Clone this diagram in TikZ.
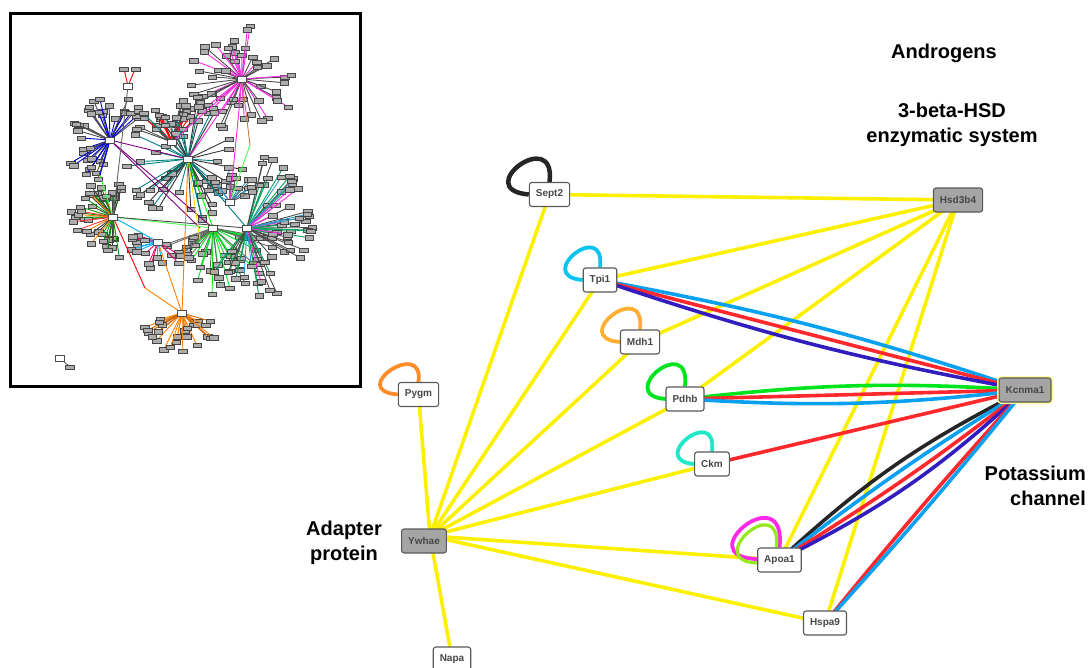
\documentclass[tikz,border=0pt]{standalone}
\usepackage{fontspec}
\setmainfont{Liberation Sans}
\usetikzlibrary{backgrounds}
\definecolor{yel}{RGB}{250,240,0}
\definecolor{lblue}{RGB}{10,160,240}
\definecolor{dblue}{RGB}{50,30,190}
\definecolor{ered}{RGB}{255,40,45}
\definecolor{egreen}{RGB}{0,228,30}
\definecolor{tcyan}{RGB}{10,195,240}
\definecolor{morange}{RGB}{255,175,50}
\definecolor{porange}{RGB}{255,140,40}
\definecolor{turq}{RGB}{30,232,200}
\definecolor{mag}{RGB}{255,40,230}
\definecolor{lgreen}{RGB}{150,232,30}
\definecolor{hubgray}{RGB}{165,165,165}
\newcommand\spokes[9]{%
  \foreach \k in {1,...,#3}{%
    \pgfmathsetmacro\ang{#4+rnd*(#5-#4)}%
    \pgfmathsetmacro\rad{#6+rnd*(#7-#6)}%
    \ifodd\k\relax\def\spc{#8}\else\def\spc{#9}\fi
    \path (#1,#2) ++(\ang:\rad) coordinate (sp);
    \draw[\spc, line width=0.9pt] (#1,#2) -- (sp);
    \filldraw[minibox] ([shift={(-4.2,-2.2)}]sp) rectangle ([shift={(4.2,2.2)}]sp);
  }}
\begin{document}
\begin{tikzpicture}[x=1pt,y=-1pt,
  gene/.style={draw=gray!70!black, line width=1.1pt, rounded corners=2.5pt, fill=white,
    font=\bfseries\fontsize{10}{12}\selectfont, text=black!72, minimum height=24pt,
    inner xsep=6.5pt, inner ysep=0pt},
  hubg/.style={gene, fill=hubgray},
  glow/.style={preaction={draw=yellow!40, line width=4pt}},
  lab/.style={font=\bfseries\fontsize{20}{24.5}\selectfont, text=black, inner sep=0pt},
  edge/.style={line width=3.6pt},
  yl/.style={edge, yel},
  lp/.style={line width=3.8pt},
  minibox/.style={draw=gray!55!black, fill=gray!65, line width=0.3pt},
  hubbox/.style={draw=gray!60!black, fill=white, line width=0.4pt}
]
\clip (0,0) rectangle (1089,667);

% ---------------- inset network ----------------
\pgfmathsetseed{5}
\spokes{242}{79}{52}{0}{360}{18}{54}{black!70}{mag}
\spokes{110}{140}{38}{95}{330}{20}{46}{blue!85!black}{black!70}
\spokes{172}{142}{24}{190}{330}{18}{46}{red}{black!70}
\spokes{188}{159}{48}{0}{360}{20}{64}{black!80}{teal}
\spokes{113}{217}{32}{80}{290}{18}{43}{black!75}{green!60!black}
\spokes{113}{217}{8}{100}{260}{20}{40}{red!80}{orange}
\spokes{213}{228}{36}{10}{170}{20}{66}{egreen}{black!60}
\spokes{247}{228}{52}{-80}{130}{25}{73}{black!70}{teal!70!green}
\spokes{247}{228}{12}{-60}{120}{25}{66}{mag}{cyan!80!black}
\spokes{230}{202}{16}{200}{340}{15}{36}{cyan!80!black}{black!60}
\spokes{158}{242}{16}{30}{200}{12}{32}{cyan}{magenta!70!red}
\spokes{182}{313}{28}{15}{170}{14}{43}{orange}{orange!80!black}

\begin{scope}[line width=0.9pt]
\draw[mag] (242,79) -- (188,159);
\draw[mag] (242,79) -- (230,202);
\draw[brown] (242,79) -- (250,145);
\draw[mag] (242,79) -- (172,142);
\draw[violet] (110,140) -- (188,159);
\draw[violet] (110,140) -- (213,228);
\draw[blue] (110,140) -- (100,175);
\draw[violet] (110,140) -- (200,228);
\draw[green!70] (113,217) -- (100,175);
\draw[green!70] (113,217) -- (213,228);
\draw[black!70] (113,217) -- (247,228);
\draw[red] (113,217) -- (145,288);
\draw[cyan] (113,217) -- (158,242);
\draw[orange] (188,159) -- (182,313);
\draw[orange] (158,242) -- (182,313);
\draw[orange] (145,288) -- (182,313);
\draw[green] (188,159) -- (213,228);
\draw[yellow!80!orange] (188,159) -- (200,240);
\draw[teal] (188,159) -- (247,228);
\draw[green!70] (250,145) -- (230,202);
\draw[black!60] (128,86) -- (113,217);
\draw[red] (128,86) -- (124,69);
\draw[red] (128,86) -- (135,69);
\draw[black!60] (60,358) -- (70,367);
\end{scope}
\foreach \hx/\hy in {242/79,110/140,172/142,188/159,113/217,213/228,247/228,230/202,158/242,182/313,128/86,60/358}{
  \filldraw[hubbox] (\hx-4.5,\hy-2.8) rectangle (\hx+4.5,\hy+2.8);
}
\filldraw[minibox] (65,365) rectangle (74,369.5);
\filldraw[minibox] (119,67) rectangle (128,71);
\filldraw[minibox] (131,67) rectangle (140,71);
\draw[line width=3pt] (10,13) rectangle (360,386);

% ---------------- main network ----------------
\node[gene] (sept) at (549.5,194.5) {Sept2};
\node[hubg] (hsd) at (958,200) {Hsd3b4};
\node[gene] (tpi) at (600,280) {Tpi1};
\node[gene] (mdh) at (640,342) {Mdh1};
\node[gene] (pdhb) at (685,399) {Pdhb};
\node[gene] (ckm) at (712,464) {Ckm};
\node[hubg, glow] (kcn) at (1025,390) {Kcnma1};
\node[gene] (pygm) at (418.5,394.5) {Pygm};
\node[hubg] (ywh) at (424,541) {Ywhae};
\node[gene] (apoa) at (779.5,560) {Apoa1};
\node[gene] (hspa) at (825,623) {Hspa9};
\node[gene] (napa) at (452,659) {Napa};
\coordinate (yc) at ([shift={(6,-5)}]ywh.center);

\node[lab] (andr) at (944,53) {Androgens};
\node[lab, align=center] (hsdlab) at (952,125) {3-beta-HSD\\enzymatic system};
\node[lab, align=right, anchor=east] (potlab) at (1086,486) {Potassium\\channel};
\node[lab, align=center] (adlab) at (344,543) {Adapter\\protein};

\begin{scope}[on background layer]
% yellow edges
\draw[yl] (sept.center) -- (hsd.center);
\draw[yl] (tpi.center) -- (hsd.center);
\draw[yl] (mdh.center) -- (hsd.center);
\draw[yl] (pdhb.center) -- (hsd.center);
\draw[yl] (apoa.center) -- (hsd.center);
\draw[yl] (hspa.center) -- (hsd.center);
\draw[yl] (yc) -- (sept.center);
\draw[yl] (yc) -- (tpi.center);
\draw[yl] (yc) -- (mdh.center);
\draw[yl] (yc) -- (pdhb.center);
\draw[yl] (yc) -- (ckm.center);
\draw[yl] (yc) -- (apoa.center);
\draw[yl] (yc) -- (hspa.center);
\draw[yl] (yc) -- (pygm.center);
\draw[yl] (yc) -- (napa.center);
% coloured edges to Kcnma1
\draw[edge, lblue] (tpi.center) to[bend left=4] (kcn.center);
\draw[edge, ered] (tpi.center) -- (kcn.center);
\draw[edge, dblue] (tpi.center) to[bend right=4] (kcn.center);
\draw[edge, egreen] (pdhb.center) to[bend left=5] (kcn.center);
\draw[edge, ered] (pdhb.center) -- (kcn.center);
\draw[edge, lblue] (pdhb.center) to[bend right=5] (kcn.center);
\draw[edge, ered] (ckm.center) -- (kcn.center);
\draw[edge, black!85] (apoa.center) to[bend left=8] (kcn.center);
\draw[edge, lblue] (apoa.center) to[bend left=3] (kcn.center);
\draw[edge, ered] (apoa.center) to[bend right=3] (kcn.center);
\draw[edge, dblue] (apoa.center) to[bend right=8] (kcn.center);
\draw[edge, ered] (hspa.center) to[bend left=1.5] (kcn.center);
\draw[edge, lblue] (hspa.center) to[bend right=1.5] (kcn.center);
% self loops
\draw[lp, black!85, line width=4.5pt] (sept.north) .. controls +(7,-57) and +(-59,-5) .. (sept.west);
\draw[lp, tcyan] (tpi.north) .. controls +(6,-50) and +(-50,-4) .. (tpi.west);
\draw[lp, morange] (mdh.north) .. controls +(6,-52) and +(-52,-4) .. (mdh.west);
\draw[lp, egreen] (pdhb.north) .. controls +(6,-55) and +(-52,-4) .. (pdhb.west);
\draw[lp, turq] (ckm.north) .. controls +(6,-48) and +(-48,-4) .. (ckm.west);
\draw[lp, porange] (pygm.north) .. controls +(6,-45) and +(-52,-4) .. (pygm.west);
\draw[lp, mag] (apoa.north) .. controls +(8,-72) and +(-70,-2) .. ([yshift=1pt]apoa.west);
\draw[lp, lgreen, line width=3.2pt] ([xshift=-3pt]apoa.north) .. controls +(5,-58) and +(-56,-2) .. ([yshift=-3pt]apoa.west);
\end{scope}
\end{tikzpicture}
\end{document}
